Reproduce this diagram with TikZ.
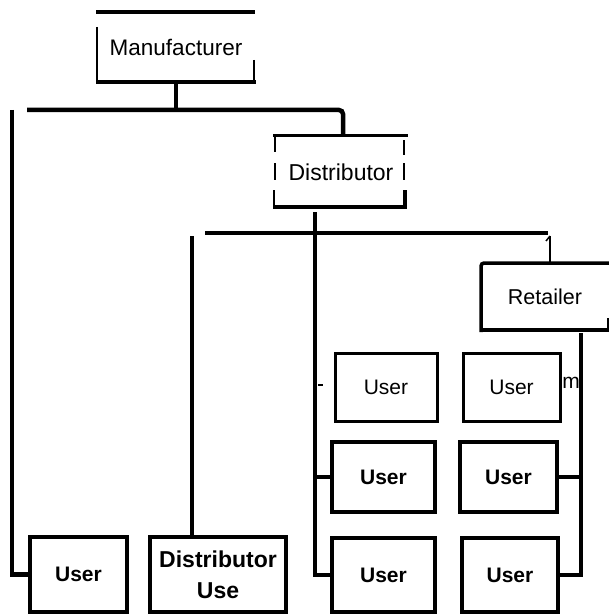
\documentclass[tikz,border=0pt]{standalone}
\usepackage{fontspec}
\setmainfont{Liberation Sans}
\begin{document}
\begin{tikzpicture}[x=1pt,y=-1pt,
  conn/.style={line width=4.5pt},
  lbox/.style={inner sep=0pt,font=\fontsize{21}{25}\selectfont},
  thinbox/.style={lbox,draw,line width=3pt},
  ubox/.style={draw,line width=3.5pt,inner sep=0pt,font=\fontsize{21}{29}\selectfont\bfseries},
]
\useasboundingbox (0,0) rectangle (609,615);

% nodes
\node[lbox,minimum width=158pt,minimum height=70pt,font=\fontsize{22.5}{26}\selectfont] (mfr) at (176,47) {Manufacturer};
\node[lbox,minimum width=131pt,minimum height=72pt,font=\fontsize{23}{27}\selectfont] (dist) at (341,172) {Distributor};
\node[lbox,minimum width=128pt,minimum height=67pt,font=\fontsize{21.5}{25}\selectfont] (ret) at (545,297) {Retailer};
\node[thinbox,minimum width=102pt,minimum height=68pt] (uaL) at (386,387) {User};
\node[thinbox,minimum width=97pt,minimum height=68pt] (uaR) at (511.5,387) {User};
\node[ubox,minimum width=97pt,minimum height=75pt] (u1) at (78.5,574.5) {User};
\node[ubox,align=center,minimum width=136pt,minimum height=75pt,font=\fontsize{23}{31}\selectfont\bfseries] (du) at (218,574.5) {Distributor\\Use};
\node[ubox,minimum width=103pt,minimum height=70pt] (u2L) at (383.5,477) {User};
\node[ubox,minimum width=97pt,minimum height=70pt] (u2R) at (508.5,477) {User};
\node[ubox,minimum width=103pt,minimum height=74pt] (u3L) at (383.5,575) {User};
\node[ubox,minimum width=96pt,minimum height=74pt] (u3R) at (510,575) {User};

% broken box outlines
\draw[line width=3.5pt] (96,12) -- (255,12);
\draw[line width=2.5pt] (97,27) -- (97,84);
\draw[line width=2pt] (254,60) -- (254,84);
\draw[line width=3.5pt] (96,82) -- (256,82);

\draw[line width=3pt] (273,135) -- (408,135);
\draw[line width=1.5pt] (275,137) -- (275,152);
\draw[line width=2pt] (275,163) -- (275,180);
\draw[line width=2.5pt] (274,190) -- (274,209);
\draw[line width=1.2pt] (404,140) -- (404,155);
\draw[line width=2pt] (404,163) -- (404,180);
\draw[line width=3.5pt] (405,190) -- (405,209);
\draw[line width=4pt] (274,207) -- (406,207);

\draw[line width=3.5pt,rounded corners=3pt] (481,332) -- (481,263) -- (609,263);
\draw[line width=2pt] (608,318) -- (608,330);
\draw[line width=4pt] (481,330) -- (609,330);

% connectors
\coordinate (b1l) at (27,110);
\coordinate (b1r) at (343,110);
\draw[conn] (mfr.south) -- (mfr.south |- b1l);
\draw[conn,rounded corners=4pt] (b1l) -- (b1r) -- (b1r |- dist.north);
\coordinate (lv) at (12,110);
\draw[conn] (lv) |- (u1.west);

\coordinate (b2l) at (205,233);
\coordinate (b2r) at (548,233);
\draw[conn] (b2l) -- (b2r);
\coordinate (rt) at (550,236);
\draw[line width=2pt] (rt) -- (rt |- ret.north);
\draw[line width=1.5pt] (546,241) -- (rt);

\coordinate (dt) at (315,212);
\draw[conn] (dt) |- (u3L.west);
\draw[conn] (dt |- u2L.west) -- (u2L.west);

\coordinate (dut) at (192,236);
\draw[conn] (dut) -- (dut |- du.north);

\coordinate (rs) at (581,333);
\draw[conn] (rs) |- (u3R.east);
\draw[conn] (rs |- u2R.east) -- (u2R.east);

% stray marks
\draw[line width=1.5pt] (318,385) -- (323,385);
\node[lbox] (mk) at (571,383) {m};
\end{tikzpicture}
\end{document}
